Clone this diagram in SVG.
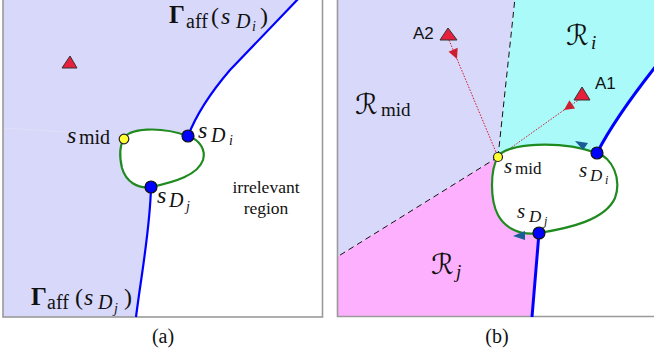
<svg xmlns="http://www.w3.org/2000/svg" width="654" height="358" viewBox="0 0 654 358">
<style>
.frame{fill:none;stroke:#9a9a9a;stroke-width:1.6}
.blue{fill:none;stroke:#0000ff;stroke-width:2.2}
.blueb{fill:none;stroke:#0000ff;stroke-width:3}
.loop{fill:#ffffff;stroke:#1f8a1f;stroke-width:2.2}
.dash{fill:none;stroke:#111;stroke-width:1;stroke-dasharray:6,4}
.ray{fill:none;stroke:#d42030;stroke-width:1;stroke-dasharray:1.6,1.4}
.tri{fill:#e8203c;stroke:#333;stroke-width:1}
.mid{fill:#ffff33;stroke:#222;stroke-width:1.2}
.dpt{fill:#0000ff;stroke:#111;stroke-width:1.2}
.m{font-family:"Liberation Serif","DejaVu Serif",serif;fill:#111}
.it{font-style:italic}
.sans{font-family:"Liberation Sans",Arial,sans-serif;fill:#111;font-size:17px}
.cal{font-family:"DejaVu Serif","DejaVu Sans",serif;fill:#111}
</style>
<defs>
<marker id="rarr" viewBox="0 0 10 10" refX="10" refY="5" markerWidth="13" markerHeight="10" markerUnits="userSpaceOnUse" orient="auto">
<path d="M0,0 L10,5 L0,10 Z" fill="#cc2030"/>
</marker>
</defs>

<!-- Panel (a) -->
<g id="panel-a">
<path id="a-region" d="M3,-2 L299,-2 L230,70 Q200,105 188,136 C200,140 206,150 203,160 C198,175 175,182 151,187 C150,230 142,270 136,317 L3,317 Z" fill="#d8d8fa"/>
<line x1="3" y1="128" x2="112" y2="135" stroke="#e0e0fb" stroke-width="1"/>
<rect class="frame" x="3" y="-5" width="319.5" height="322"/>
</g>
<g id="a-connectors">
<path class="blue" d="M188,136 Q200,105 230,70 L300,-3"/>
<path class="blue" d="M151,187 C150,230 142,270 136,317"/>
</g>
<g id="a-loop"><path class="loop" d="M124,139 C128,128 160,126 188,136 C200,140 206,150 203,160 C198,175 175,182 151,187 C138,189 126,182 122,168 C119,155 120,145 124,139 Z"/></g>
<g id="a-tri"><polygon class="tri" points="70,56 62,68 77,68"/></g>
<g id="a-smid"><circle class="mid" cx="124" cy="139" r="4.8"/>
<text class="m" x="67" y="143" font-size="24"><tspan class="it">s</tspan><tspan x="79" y="144" font-size="20">mid</tspan></text></g>
<g id="a-sDi"><circle class="dpt" cx="188" cy="136" r="6"/>
<text class="m it" x="198" y="138" font-size="24">s<tspan x="211" y="142" font-size="20">D</tspan><tspan x="229" y="145" font-size="14">i</tspan></text></g>
<g id="a-sDj"><circle class="dpt" cx="151" cy="187" r="6"/>
<text class="m it" x="157" y="203" font-size="24">s<tspan x="169" y="207" font-size="20">D</tspan><tspan x="186" y="211" font-size="14">j</tspan></text></g>
<g id="a-label-top"><text class="m" x="169" y="23" font-size="24"><tspan font-weight="bold" font-size="25">Γ</tspan><tspan x="186" y="28" font-size="20">aff</tspan><tspan x="211" y="24">(</tspan><tspan x="221" class="it">s</tspan><tspan x="236" y="28" font-size="20" class="it">D</tspan><tspan x="252" y="31" font-size="14" class="it">i</tspan><tspan x="260" y="24">)</tspan></text></g>
<g id="a-label-bot"><text class="m" x="31" y="305" font-size="24"><tspan font-weight="bold" font-size="25">Γ</tspan><tspan x="47" y="309" font-size="20">aff</tspan><tspan x="75" y="305">(</tspan><tspan x="84" class="it">s</tspan><tspan x="98" y="309" font-size="20" class="it">D</tspan><tspan x="114" y="313" font-size="14" class="it">j</tspan><tspan x="124" y="305">)</tspan></text></g>
<g id="a-irr"><text class="m" x="266" y="193" font-size="17.5" text-anchor="middle">irrelevant</text><text class="m" x="266" y="214" font-size="17.5" text-anchor="middle">region</text></g>
<text class="m" x="163" y="343" font-size="20" text-anchor="middle">(a)</text>

<!-- Panel (b) -->
<g id="panel-b">
<path id="b-Rmid" d="M337,-2 L515,-2 L498,157 L337,257 Z" fill="#d8d8fa"/>
<path id="b-Ri" d="M515,-2 L655,-2 L655,68 Q615,118 597,153 C560,140 505,143 498,157 Z" fill="#aafafa"/>
<path id="b-Rj" d="M337,257 L498,157 C490,170 490,200 498,215 C505,228 520,236 539,233 C537,260 534,290 532,317 L337,317 Z" fill="#fdb0fd"/>
<path class="frame" d="M337.5,-5 L337.5,316.5 L660,316.5"/>
</g>
<g id="b-connectors">
<path class="dash" d="M498,157 L515,-2"/>
<path class="dash" d="M498,157 L337,257"/>
<path class="ray" d="M449,40 L457,59" marker-end="url(#rarr)"/>
<path class="ray" d="M457,59 L498,157"/>
<path class="ray" d="M580,99 L564,110" marker-end="url(#rarr)"/>
<path class="ray" d="M564,110 L498,157"/>
<path class="blueb" d="M597,153 Q615,118 656,66"/>
<path class="blueb" d="M539,233 C537,260 534,290 532,317"/>
</g>
<g id="b-loop"><path class="loop" d="M498,157 C505,143 560,140 597,153 C612,158 622,178 615,198 C605,220 570,228 539,233 C520,236 505,228 498,215 C490,200 490,170 498,157 Z"/>
<polygon points="575,141 588,143 583,150" fill="#1a5c96"/>
<polygon points="513,236 525,231 525,240" fill="#1a5c96"/></g>
<g id="b-A2"><polygon class="tri" points="448,28 440,40 457,40"/><text class="sans" x="413" y="39">A2</text></g>
<g id="b-A1"><polygon class="tri" points="582,87 574,100 590,100"/><text class="sans" x="595" y="89">A1</text></g>
<g id="b-smid"><circle class="mid" cx="498" cy="157" r="4.5"/>
<text class="m" x="504" y="173" font-size="21"><tspan class="it">s</tspan><tspan x="515" y="174" font-size="17">mid</tspan></text></g>
<g id="b-sDi"><circle class="dpt" cx="597" cy="153" r="6"/>
<text class="m it" x="579" y="177" font-size="21">s<tspan x="590" y="181" font-size="17">D</tspan><tspan x="605" y="184" font-size="12">i</tspan></text></g>
<g id="b-sDj"><circle class="dpt" cx="539" cy="233" r="6"/>
<text class="m it" x="517" y="218" font-size="21">s<tspan x="529" y="222" font-size="17">D</tspan><tspan x="544" y="225" font-size="12">j</tspan></text></g>
<g id="b-labels">
<text class="cal" x="355" y="114" font-size="28">ℛ<tspan class="m" x="381" y="116" font-size="19">mid</tspan></text>
<text class="cal" x="566" y="45" font-size="28">ℛ<tspan class="m it" x="591" y="49" font-size="19">i</tspan></text>
<text class="cal" x="431" y="274" font-size="28">ℛ<tspan class="m it" x="456" y="278" font-size="19">j</tspan></text>
</g>
<text class="m" x="497" y="343" font-size="20" text-anchor="middle">(b)</text>
</svg>
